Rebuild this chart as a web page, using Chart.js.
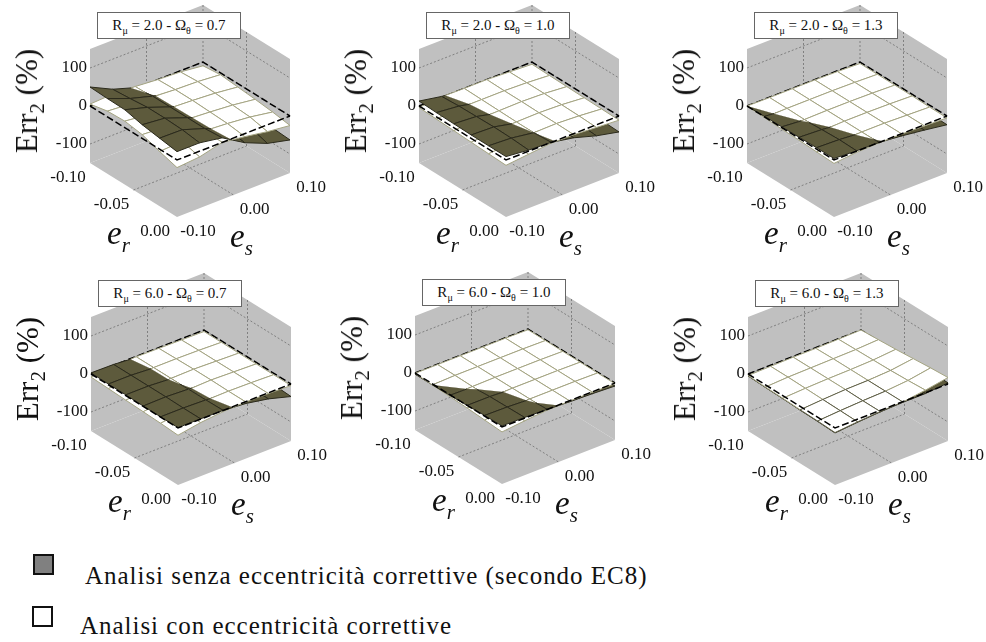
<!DOCTYPE html>
<html>
<head>
<meta charset="utf-8">
<script src="https://cdn.jsdelivr.net/npm/chart.js@4/dist/chart.umd.min.js"></script>
<style>
    html, body { margin: 0; padding: 0; background: #fff; }
    #page { position: relative; width: 986px; height: 642px; overflow: hidden; font-family: "Liberation Serif", serif; color: #111; }
    canvas { position: absolute; }
    .title { position: absolute; box-sizing: border-box; width: 144px; height: 27px; background: #fff; border: 1px solid #666; font-size: 15px; line-height: 24px; text-align: center; white-space: nowrap; }
    .title sub { font-size: 10px; line-height: 0; }
    .err { position: absolute; font-size: 31px; white-space: nowrap; transform: translate(-50%, -50%) rotate(-90deg); }
    .err sub { font-size: 21px; line-height: 0; }
    .ax { position: absolute; font-size: 33px; font-style: italic; line-height: 33px; }
    .ax sub { font-size: 21px; line-height: 0; }
    .swatch { position: absolute; box-sizing: border-box; width: 21px; height: 21px; border: 2px solid #111; }
    .legend { position: absolute; font-size: 25px; line-height: 28px; letter-spacing: 0.97px; white-space: nowrap; }
</style>
</head>
<body>
<div id="page"></div>
<script>
// Axes
const erGrid = [-0.10, -0.08, -0.06, -0.04, -0.02, 0.00];
const esGrid = [-0.10, -0.06, -0.02, 0.02, 0.06, 0.10];
const erTicks = [-0.10, -0.05, 0.00];
const esTicks = [-0.10, 0.00, 0.10];
const zTicks = [-100, 0, 100];
const zMin = -150;
const zMax = 150;

const rmuValues = ['2.0', '2.0', '2.0', '6.0', '6.0', '6.0'];
const omegaValues = ['0.7', '1.0', '1.3', '0.7', '1.0', '1.3'];

// Err2 (%), rows = er, columns = es
// "senza" = without corrective eccentricities, "con" = with
const senza1 = [
    [50, 21, 2, -15, -30, -40],
    [48, 25, 8, -10, -30, -45],
    [47, 30, 8, -12, -28, -50],
    [36, 30, 8, -14, -28, -55],
    [29, 28, 8, -18, -35, -60],
    [22, 22, 12, -24, -49, -63]
];
const con1 = [
    [5, 8, 5, 0, -3, -10],
    [15, 10, 6, 2, 0, -5],
    [17, 10, 5, 2, -2, -9],
    [10, 6, 4, 0, -5, -13],
    [-6, -3, 2, -2, -8, -18],
    [-20, -15, 0, -8, -18, -25]
];
const senza2 = [
    [13, 2, -5, -12, -20, -25],
    [11, 5, -8, -10, -20, -28],
    [10, 6, -8, -12, -20, -32],
    [9, 7, -6, -12, -22, -36],
    [9, 6, -3, -11, -26, -40],
    [9, 3, 0, -11, -29, -42]
];
const con2 = [
    [-4, 1, 0, 0, -3, -6],
    [-6, -1, -1, -1, -3, -7],
    [-8, -3, -2, -1, -3, -8],
    [-10, -5, -3, -2, -4, -9],
    [-12, -7, -3, -2, -5, -10],
    [-14, -8, -2, -3, -7, -11]
];
const senza3 = [
    [0, -5, -9, -13, -17, -20],
    [1, -5, -9, -13, -17, -21],
    [2, -3, -8, -12, -17, -21],
    [3, 0, -6, -10, -16, -22],
    [4, 2, -3, -8, -15, -22],
    [4, 1, 0, -6, -14, -23]
];
const con3 = [
    [0, -1, -1, -1, -2, -4],
    [-2, -1, -1, -1, -2, -4],
    [-4, -2, -1, -1, -2, -4],
    [-5, -3, -1, -1, -2, -4],
    [-7, -3, -1, -1, -3, -5],
    [-9, -3, -1, -1, -3, -5]
];
const senza4 = [
    [3, 2, -3, -8, -16, -20],
    [2, 2, -2, -7, -15, -22],
    [2, 2, -2, -6, -15, -24],
    [1, 2, -1, -6, -15, -27],
    [1, 1, -1, -5, -15, -30],
    [1, 1, 0, -5, -16, -33]
];
const con4 = [
    [-8, -4, -1, -2, -3, -4],
    [-10, -5, -1, -1, -2, -4],
    [-12, -6, -1, 0, -2, -4],
    [-14, -7, -2, 0, -2, -4],
    [-16, -8, -2, -1, -2, -4],
    [-19, -9, -3, -1, -2, -4]
];
const senza5 = [
    [-3, -5, -7, -10, -14, -18],
    [-3, -4, -6, -9, -13, -17],
    [-2, -3, -6, -8, -12, -16],
    [0, 0, -3, -7, -11, -14],
    [2, 1, -2, -5, -9, -12],
    [3, 2, 0, -3, -5, -8]
];
const con5 = [
    [-1, -1, -1, -1, -1, -2],
    [-3, -1, -1, -1, -1, -2],
    [-5, -2, -1, -1, -1, -2],
    [-7, -3, -1, -1, -1, -2],
    [-10, -5, -1, -1, -1, -2],
    [-13, -7, -2, -1, -1, -2]
];
const senza6 = [
    [-5, -6, -6, -7, -7, -8],
    [-7, -7, -7, -7, -6, -3],
    [-8, -8, -8, -7, -4, 0],
    [-10, -6, -3, -2, 1, 4],
    [-11, -7, -4, -2, 0, 4],
    [-13, -8, -4, -2, -2, 3]
];
const con6 = [
    [-4, -3, -2, -2, -1, 0],
    [-6, -3, -2, -1, 0, 3],
    [-7, -4, -2, -1, 1, 6],
    [-9, -5, -2, -1, 2, 10],
    [-10, -6, -3, -1, 4, 14],
    [-12, -7, -3, -1, 7, 17]
];
const senzaPanels = [senza1, senza2, senza3, senza4, senza5, senza6];
const conPanels = [con1, con2, con3, con4, con5, con6];

const legendLabels = ['Analisi senza eccentricità correttive (secondo EC8)', 'Analisi con eccentricità correttive'];

// Layout
const panelW = 330;
const panelH = 270;
const panelX = [0, 329, 657, 1, 325, 658];
const panelY = [0, 0, 0, 268, 267, 268];

const WALL = '#c0c0c0';
const OLIVE = '#5d5a3c';
const OLIVE_EDGE = '#2b2a1c';
const TAN = '#a5a583';
const TAN_DARK = '#66664e';
const DOTTED = '#808080';

// oblique view of the box: er runs left corner -> front corner, es runs front corner -> right corner
function project(er, es, z) {
    const u = (er - erGrid[0]) / (erGrid[erGrid.length - 1] - erGrid[0]);
    const v = (es - esGrid[0]) / (esGrid[esGrid.length - 1] - esGrid[0]);
    return {
        x: 90 + 87 * u + 113 * v,
        y: 163 + 54 * u - 44 * v - (z - zMin) * 0.38
    };
}

function polygon(points, color) {
    return { data: points, showLine: true, fill: 'shape', backgroundColor: color, borderColor: color, borderWidth: 0, pointRadius: 0 };
}

function line(points, color, width, dash) {
    return { data: points, showLine: true, fill: false, borderColor: color, borderWidth: width, borderDash: dash || [], pointRadius: 0 };
}

function boxDatasets() {
    const a = erGrid[0], b = erGrid[5], c = esGrid[0], d = esGrid[5];
    const sets = [
        polygon([project(a, c, zMin), project(a, d, zMin), project(a, d, zMax), project(a, c, zMax)], WALL),
        polygon([project(a, d, zMin), project(b, d, zMin), project(b, d, zMax), project(a, d, zMax)], WALL),
        polygon([project(a, c, zMin), project(b, c, zMin), project(b, d, zMin), project(a, d, zMin)], WALL)
    ];
    const dots = [2, 2];
    zTicks.forEach(z => {
        sets.push(line([project(a, c, z), project(a, d, z), project(b, d, z)], DOTTED, 1, dots));
    });
    sets.push(line([project(a, 0, zMin), project(a, 0, zMax)], DOTTED, 1, dots));
    sets.push(line([project(-0.05, d, zMin), project(-0.05, d, zMax)], DOTTED, 1, dots));
    sets.push(line([project(a, d, zMin), project(a, d, zMax)], DOTTED, 1, dots));
    sets.push(line([project(a, 0, zMin), project(b, 0, zMin)], DOTTED, 1, dots));
    sets.push(line([project(-0.05, c, zMin), project(-0.05, d, zMin)], DOTTED, 1, dots));
    return sets;
}

// keep the part of a cell where sign * (senza - con) >= 0
function clipCell(corners, sign) {
    const out = [];
    corners.forEach((p, k) => {
        const q = corners[(k + 1) % corners.length];
        const dp = sign * (p.s - p.c);
        const dq = sign * (q.s - q.c);
        if (dp >= 0) out.push(p);
        if ((dp > 0 && dq < 0) || (dp < 0 && dq > 0)) {
            const t = dp / (dp - dq);
            out.push({
                i: p.i + (q.i - p.i) * t,
                j: p.j + (q.j - p.j) * t,
                s: p.s + (q.s - p.s) * t,
                c: p.c + (q.c - p.c) * t
            });
        }
    });
    return out;
}

function gridEr(i) {
    const k = Math.floor(i);
    return k >= 5 ? erGrid[5] : erGrid[k] + (erGrid[k + 1] - erGrid[k]) * (i - k);
}

function gridEs(j) {
    const k = Math.floor(j);
    return k >= 5 ? esGrid[5] : esGrid[k] + (esGrid[k + 1] - esGrid[k]) * (j - k);
}

function partDatasets(part, key, fillColor, edgeColor) {
    const pts = part.map(p => project(gridEr(p.i), gridEs(p.j), p[key]));
    const edges = [];
    part.forEach((p, k) => {
        const n = (k + 1) % part.length;
        const q = part[n];
        // cut edges along the intersection of the two surfaces get no mesh line
        const onCellEdge = (p.i === q.i && Number.isInteger(p.i)) || (p.j === q.j && Number.isInteger(p.j));
        if (onCellEdge) {
            edges.push(pts[k], pts[n], { x: null, y: null });
        }
    });
    return [polygon(pts, fillColor), line(edges, edgeColor, 1)];
}

function surfaceDatasets(senza, con) {
    const sets = [];
    for (let i = 0; i < 5; i++) {
        for (let j = 4; j >= 0; j--) {
            const corners = [[i, j], [i + 1, j], [i + 1, j + 1], [i, j + 1]].map(([a, b]) => ({ i: a, j: b, s: senza[a][b], c: con[a][b] }));
            const above = clipCell(corners, 1);
            const below = clipCell(corners, -1);
            // where the two surfaces nearly touch the dark mesh shows through the white one
            const gap = corners.reduce((sum, p) => sum + Math.abs(p.s - p.c), 0) / 4;
            if (below.length > 2) {
                sets.push(...partDatasets(below, 's', OLIVE, OLIVE_EDGE));
                sets.push(...partDatasets(below, 'c', '#ffffff', gap <= 1.5 ? TAN_DARK : TAN));
            }
            if (above.length > 2) {
                sets.push(...partDatasets(above, 'c', '#ffffff', TAN));
                sets.push(...partDatasets(above, 's', OLIVE, OLIVE_EDGE));
            }
        }
    }
    return sets;
}

function panelDatasets(index) {
    const a = erGrid[0], b = erGrid[5], c = esGrid[0], d = esGrid[5];
    const dash = [7, 3];
    const sets = boxDatasets();
    sets.push(line([project(a, c, 0), project(a, d, 0), project(b, d, 0)], '#000', 1.5, dash));
    sets.push(...surfaceDatasets(senzaPanels[index], conPanels[index]));
    sets.push(line([project(a, c, 0), project(b, c, 0), project(b, d, 0)], '#000', 1.5, dash));
    // Chart.js paints the first dataset last
    return sets.reverse();
}

const tickLabels = {
    id: 'tickLabels',
    afterDatasetsDraw(chart) {
        const { ctx, scales } = chart;
        const put = (p, dx, dy, text, align) => {
            ctx.textAlign = align;
            ctx.fillText(text, scales.x.getPixelForValue(p.x) + dx, scales.y.getPixelForValue(p.y) + dy);
        };
        ctx.save();
        ctx.font = '17px "Liberation Serif"';
        ctx.fillStyle = '#111';
        ctx.textBaseline = 'middle';
        zTicks.forEach(z => put(project(erGrid[0], esGrid[0], z), -3, 0, String(z), 'right'));
        erTicks.forEach(er => put(project(er, esGrid[0], zMin), -22, 15, er.toFixed(2), 'center'));
        esTicks.forEach(es => put(project(erGrid[5], es, zMin), 21, 15, es.toFixed(2), 'center'));
        ctx.restore();
    }
};

function createPanel(page, index) {
    const x = panelX[index];
    const y = panelY[index];
    const canvas = document.createElement('canvas');
    canvas.width = panelW;
    canvas.height = panelH;
    canvas.style.left = x + 'px';
    canvas.style.top = y + 'px';
    page.appendChild(canvas);

    new Chart(canvas.getContext('2d'), {
        type: 'scatter',
        data: { datasets: panelDatasets(index) },
        options: {
            responsive: false,
            animation: false,
            layout: { padding: 0 },
            clip: false,
            plugins: { legend: { display: false }, tooltip: { enabled: false } },
            scales: {
                x: { type: 'linear', min: 0, max: panelW, display: false },
                y: { type: 'linear', min: 0, max: panelH, reverse: true, display: false }
            }
        },
        plugins: [tickLabels]
    });

    addHtml(page, 'title', x + 97, y + 12, `R<sub>μ</sub> = ${rmuValues[index]} - Ω<sub>θ</sub> = ${omegaValues[index]}`);
    addHtml(page, 'err', x + 27, y + 101, 'Err<sub>2</sub> (%)');
    addHtml(page, 'ax', x + 107, y + 217, 'e<sub>r</sub>');
    addHtml(page, 'ax', x + 230, y + 220, 'e<sub>s</sub>');
}

function addHtml(page, cls, x, y, html) {
    const el = document.createElement('div');
    el.className = cls;
    el.style.left = x + 'px';
    el.style.top = y + 'px';
    el.innerHTML = html;
    page.appendChild(el);
    return el;
}

function initPage() {
    const page = document.getElementById('page');
    rmuValues.forEach((_, i) => createPanel(page, i));

    addHtml(page, 'swatch', 33, 554, '').style.background = '#808080';
    addHtml(page, 'swatch', 32, 606, '').style.background = '#fff';
    addHtml(page, 'legend', 85, 562, legendLabels[0]);
    addHtml(page, 'legend', 80, 612, legendLabels[1]);
}

document.addEventListener('DOMContentLoaded', initPage);
</script>
</body>
</html>
